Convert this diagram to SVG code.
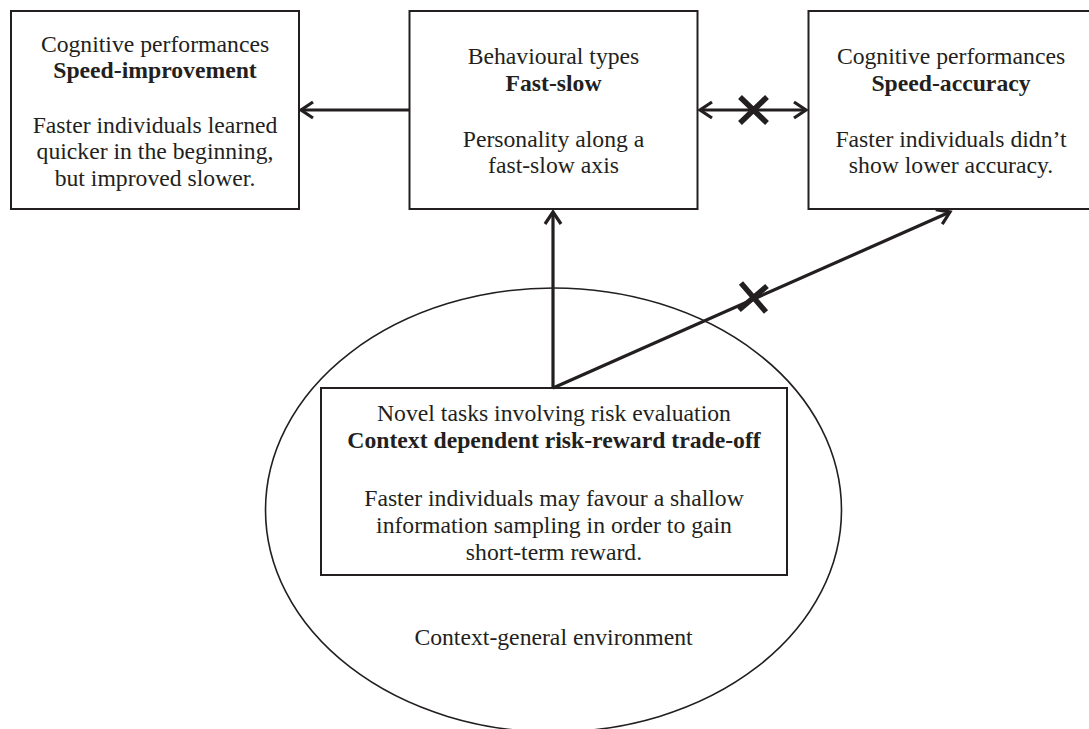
<svg xmlns="http://www.w3.org/2000/svg" width="1089" height="729" viewBox="0 0 1089 729">
<style>
.box{fill:#fff;stroke:#231f20;stroke-width:2}
.ell{fill:none;stroke:#231f20;stroke-width:1.6}
text{font-family:"Liberation Serif","Times New Roman",serif;font-size:23.7px;fill:#231f20;text-anchor:middle}
.b{font-weight:bold}
.conn{stroke:#231f20;stroke-width:3.2;fill:none}
.x{stroke:#231f20;stroke-width:5.5;fill:none}
</style>
<defs>
<marker id="ah" markerUnits="userSpaceOnUse" markerWidth="20" markerHeight="20" viewBox="-14 -10 18 20" refX="0" refY="0" orient="auto-start-reverse">
<path d="M-12,-8 L0,0 L-12,8" fill="none" stroke="#231f20" stroke-width="3.2"/>
</marker>
</defs>
<rect width="1089" height="729" fill="#fff"/>
<g id="env">
<ellipse class="ell" cx="553.5" cy="510" rx="288" ry="222"/>
<text x="553.5" y="645">Context-general environment</text>
</g>
<g id="box1">
<rect class="box" x="11" y="11" width="288" height="198"/>
<text x="155" y="52">Cognitive performances</text>
<text x="155" y="78" class="b">Speed-improvement</text>
<text x="155" y="133">Faster individuals learned</text>
<text x="155" y="159">quicker in the beginning,</text>
<text x="155" y="186">but improved slower.</text>
</g>
<g id="box2">
<rect class="box" x="409.5" y="11" width="288" height="198"/>
<text x="553.5" y="64">Behavioural types</text>
<text x="553.5" y="91" class="b">Fast-slow</text>
<text x="553.5" y="147">Personality along a</text>
<text x="553.5" y="173">fast-slow axis</text>
</g>
<g id="box3">
<rect class="box" x="808.5" y="11" width="286" height="198"/>
<text x="951" y="64">Cognitive performances</text>
<text x="951" y="91" class="b">Speed-accuracy</text>
<text x="951" y="147">Faster individuals didn’t</text>
<text x="951" y="173">show lower accuracy.</text>
</g>
<g id="box4">
<rect class="box" x="321" y="388" width="466" height="187"/>
<text x="554" y="421">Novel tasks involving risk evaluation</text>
<text x="554" y="448" class="b">Context dependent risk-reward trade-off</text>
<text x="554" y="506">Faster individuals may favour a shallow</text>
<text x="554" y="533">information sampling in order to gain</text>
<text x="554" y="560">short-term reward.</text>
</g>
<g id="connectors">
<line class="conn" x1="409" y1="110" x2="301" y2="110" marker-end="url(#ah)"/>
<line class="conn" x1="700" y1="110" x2="806" y2="110" marker-start="url(#ah)" marker-end="url(#ah)"/>
<path class="x" d="M740,97 L767,123 M767,97 L740,123"/>
<line class="conn" x1="553" y1="388" x2="553" y2="212" marker-end="url(#ah)"/>
<line class="conn" x1="553" y1="388" x2="950" y2="212" marker-end="url(#ah)"/>
<path class="x" d="M741,283 L766,312 M767,286 L739,310"/>
</g>
</svg>
